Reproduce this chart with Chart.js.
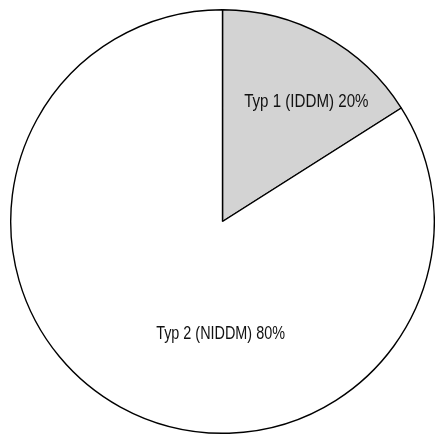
<!DOCTYPE html>
<html>
<head>
<meta charset="utf-8">
<script src="https://cdn.jsdelivr.net/npm/chart.js@4/dist/chart.umd.min.js"></script>
<style>
  html, body { margin: 0; padding: 0; background: #fff; }
  canvas { display: block; }
</style>
</head>
<body>
<canvas id="myChart" width="435" height="435"></canvas>
<script>
// slice sizes as drawn (the printed labels say 20 / 80)
var labels = ["Typ 1 (IDDM) 20%", "Typ 2 (NIDDM) 80%"];
var values = [16, 84];
var colors = ["#d3d3d3", "#ffffff"];

// where each label sits: angle from 12 o'clock (deg, clockwise), share of radius
var labelAngle = [35, 181];
var labelDist = [0.69, 0.53];

const sliceLabels = {
	id: "sliceLabels",
	afterDatasetsDraw(chart) {
		const ctx = chart.ctx;
		const arcs = chart.getDatasetMeta(0).data;
		ctx.save();
		ctx.font = '18px "Liberation Sans", Arial, sans-serif';
		ctx.fillStyle = "#111";
		ctx.textAlign = "center";
		ctx.textBaseline = "middle";
		arcs.forEach(function (arc, i) {
			const a = (labelAngle[i] - 90) * Math.PI / 180;
			const r = arc.outerRadius * labelDist[i];
			const x = arc.x + Math.cos(a) * r;
			const y = arc.y + Math.sin(a) * r;
			// narrow look, like a condensed face
			ctx.save();
			ctx.translate(x, y);
			ctx.scale(i === 0 ? 0.84 : 0.8, 1);
			ctx.fillText(labels[i], 0, 0);
			ctx.restore();
		});
		ctx.restore();
	},
};

const config = {
	type: "pie",
	data: {
		labels: labels,
		datasets: [
			{
				data: values,
				backgroundColor: colors,
				borderColor: "#000",
				borderWidth: 1.4,
			},
		],
	},
	options: {
		responsive: false,
		animation: false,
		devicePixelRatio: 1,
		layout: { padding: { left: 10, right: 0, top: 9, bottom: 1 } },
		plugins: {
			legend: { display: false },
			tooltip: { enabled: false },
		},
	},
	plugins: [sliceLabels],
};

const myChart = new Chart(document.getElementById("myChart"), config);
</script>
</body>
</html>
